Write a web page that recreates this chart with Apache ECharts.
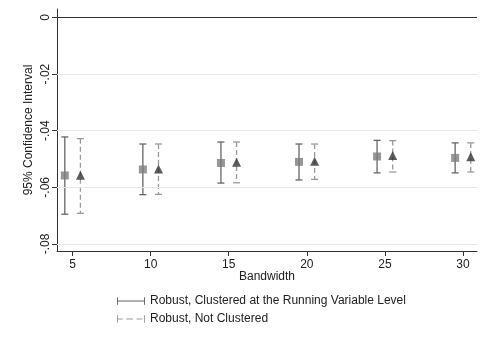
<!DOCTYPE html>
<html>
<head>
<meta charset="utf-8">
<script src="https://cdn.jsdelivr.net/npm/echarts@6/dist/echarts.min.js"></script>
<style>
  html, body { margin: 0; padding: 0; background: #fff; }
</style>
</head>
<body>
<div id="ciChart" style="width: 483px;height:352px;"></div>
<script>
// bandwidths on the x axis
var bandwidths = [5, 10, 15, 20, 25, 30];

// Robust, clustered at the running variable level (square)
var clusteredEst = [-0.0558, -0.0537, -0.0514, -0.0510, -0.0491, -0.0496];
var clusteredLo = [-0.0695, -0.0626, -0.0585, -0.0574, -0.0549, -0.0549];
var clusteredHi = [-0.0422, -0.0447, -0.0440, -0.0447, -0.0434, -0.0443];

// Robust, not clustered (triangle)
var robustEst = [-0.0557, -0.0535, -0.0511, -0.0508, -0.0488, -0.0492];
var robustLo = [-0.0692, -0.0625, -0.0584, -0.0572, -0.0546, -0.0546];
var robustHi = [-0.0428, -0.0447, -0.0440, -0.0447, -0.0435, -0.0443];

// tick labels
var xTicks = [5, 10, 15, 20, 25, 30];
var yTicks = [0, -0.02, -0.04, -0.06, -0.08];
var yTickLabels = ["0", "-.02", "-.04", "-.06", "-.08"];

var seriesNames = ["Robust, Clustered at the Running Variable Level", "Robust, Not Clustered"];

var FONT = "Liberation Sans";
var myChart = echarts.init(document.getElementById("ciChart"));

// markers sit half a unit left / right of the bandwidth
function ciData(lo, hi, shift) {
  return bandwidths.map(function(b, i) {
    return [b + shift, lo[i], hi[i]];
  });
}
function estData(est, shift) {
  return bandwidths.map(function(b, i) {
    return [b + shift, est[i]];
  });
}

// error bar with caps
function makeRenderer(color, dash) {
  return function(params, api) {
    var x = api.value(0);
    var top = api.coord([x, api.value(2)]);
    var bot = api.coord([x, api.value(1)]);
    var cap = 3.5;
    var st = { stroke: color, lineWidth: 1.3, lineDash: dash };
    return {
      type: "group",
      children: [
        { type: "line", shape: { x1: top[0], y1: top[1], x2: bot[0], y2: bot[1] }, style: st },
        { type: "line", shape: { x1: top[0] - cap, y1: top[1], x2: top[0] + cap, y2: top[1] }, style: { stroke: color, lineWidth: 1.3 } },
        { type: "line", shape: { x1: bot[0] - cap, y1: bot[1], x2: bot[0] + cap, y2: bot[1] }, style: { stroke: color, lineWidth: 1.3 } }
      ]
    };
  };
}

var solidIcon = "path://M0,0h1v8h-1z M1,3.5h28v1h-28z M29,0h1v8h-1z";
var dashIcon = "path://M0,0h1v8h-1z M1,3.5h5v1h-5z M10,3.5h7v1h-7z M21,3.5h6v1h-6z M29,0h1v8h-1z";

var option = {
  animation: false,
  backgroundColor: "#fff",
  grid: { left: 57, right: 6, top: 9, bottom: 101 },
  legend: {
    orient: "vertical",
    left: 112,
    top: 290,
    itemWidth: 28,
    itemHeight: 8,
    itemGap: 6,
    textStyle: { fontFamily: FONT, fontSize: 12, color: "#222" },
    data: [
      { name: seriesNames[0], icon: solidIcon },
      { name: seriesNames[1], icon: dashIcon }
    ]
  },
  xAxis: {
    type: "value",
    min: 4,
    max: 30.9,
    name: "Bandwidth",
    nameLocation: "middle",
    nameGap: 20,
    nameMoveOverlap: false,
    nameTextStyle: { fontFamily: FONT, fontSize: 12, color: "#222", verticalAlign: "top" },
    axisLine: { onZero: false, lineStyle: { color: "#333", width: 1 } },
    axisTick: { show: true, length: 5, customValues: xTicks, lineStyle: { color: "#333" } },
    axisLabel: { customValues: xTicks, fontFamily: FONT, fontSize: 12, color: "#222", margin: 8 },
    splitLine: { show: false }
  },
  yAxis: {
    type: "value",
    min: -0.0825,
    max: 0.003,
    name: "95% Confidence Interval",
    nameLocation: "middle",
    nameGap: 22,
    nameRotate: 90,
    nameMoveOverlap: false,
    nameTextStyle: { fontFamily: FONT, fontSize: 12, color: "#222" },
    axisLine: { show: true, onZero: false, lineStyle: { color: "#333", width: 1 } },
    axisTick: { show: true, length: 5, customValues: yTicks, lineStyle: { color: "#333" } },
    axisLabel: {
      customValues: yTicks,
      rotate: 90,
      fontFamily: FONT,
      fontSize: 12,
      color: "#222",
      margin: 5,
      formatter: function(v) {
        var i = yTicks.findIndex(function(t) { return Math.abs(t - v) < 1e-9; });
        return i >= 0 ? yTickLabels[i] : "";
      }
    },
    splitLine: { show: false }
  },
  series: [
    {
      name: "grid",
      type: "line",
      data: [],
      silent: true,
      markLine: {
        symbol: "none",
        silent: true,
        label: { show: false },
        data: [
          { yAxis: -0.02, lineStyle: { color: "#e8e8e8", width: 1.2, type: "solid" } },
          { yAxis: -0.04, lineStyle: { color: "#e8e8e8", width: 1.2, type: "solid" } },
          { yAxis: -0.06, lineStyle: { color: "#e8e8e8", width: 1.2, type: "solid" } },
          { yAxis: -0.08, lineStyle: { color: "#e8e8e8", width: 1.2, type: "solid" } },
          { yAxis: 0, lineStyle: { color: "#333", width: 1.2, type: "solid" } }
        ]
      }
    },
    {
      name: seriesNames[0],
      type: "custom",
      itemStyle: { color: "#666" },
      renderItem: makeRenderer("#666", null),
      encode: { x: 0, y: [1, 2] },
      data: ciData(clusteredLo, clusteredHi, -0.5),
      z: 3
    },
    {
      name: seriesNames[1],
      type: "custom",
      itemStyle: { color: "#9a9a9a" },
      renderItem: makeRenderer("#9a9a9a", [5, 3]),
      encode: { x: 0, y: [1, 2] },
      data: ciData(robustLo, robustHi, 0.5),
      z: 3
    },
    {
      name: "clusteredEst",
      type: "scatter",
      symbol: "rect",
      symbolSize: 8,
      itemStyle: { color: "#7d7d7d" },
      data: estData(clusteredEst, -0.5),
      z: 4
    },
    {
      name: "robustEst",
      type: "scatter",
      symbol: "triangle",
      symbolSize: 9,
      itemStyle: { color: "#333" },
      data: estData(robustEst, 0.5),
      z: 4
    }
  ]
};

myChart.setOption(option);
</script>
</body>
</html>
